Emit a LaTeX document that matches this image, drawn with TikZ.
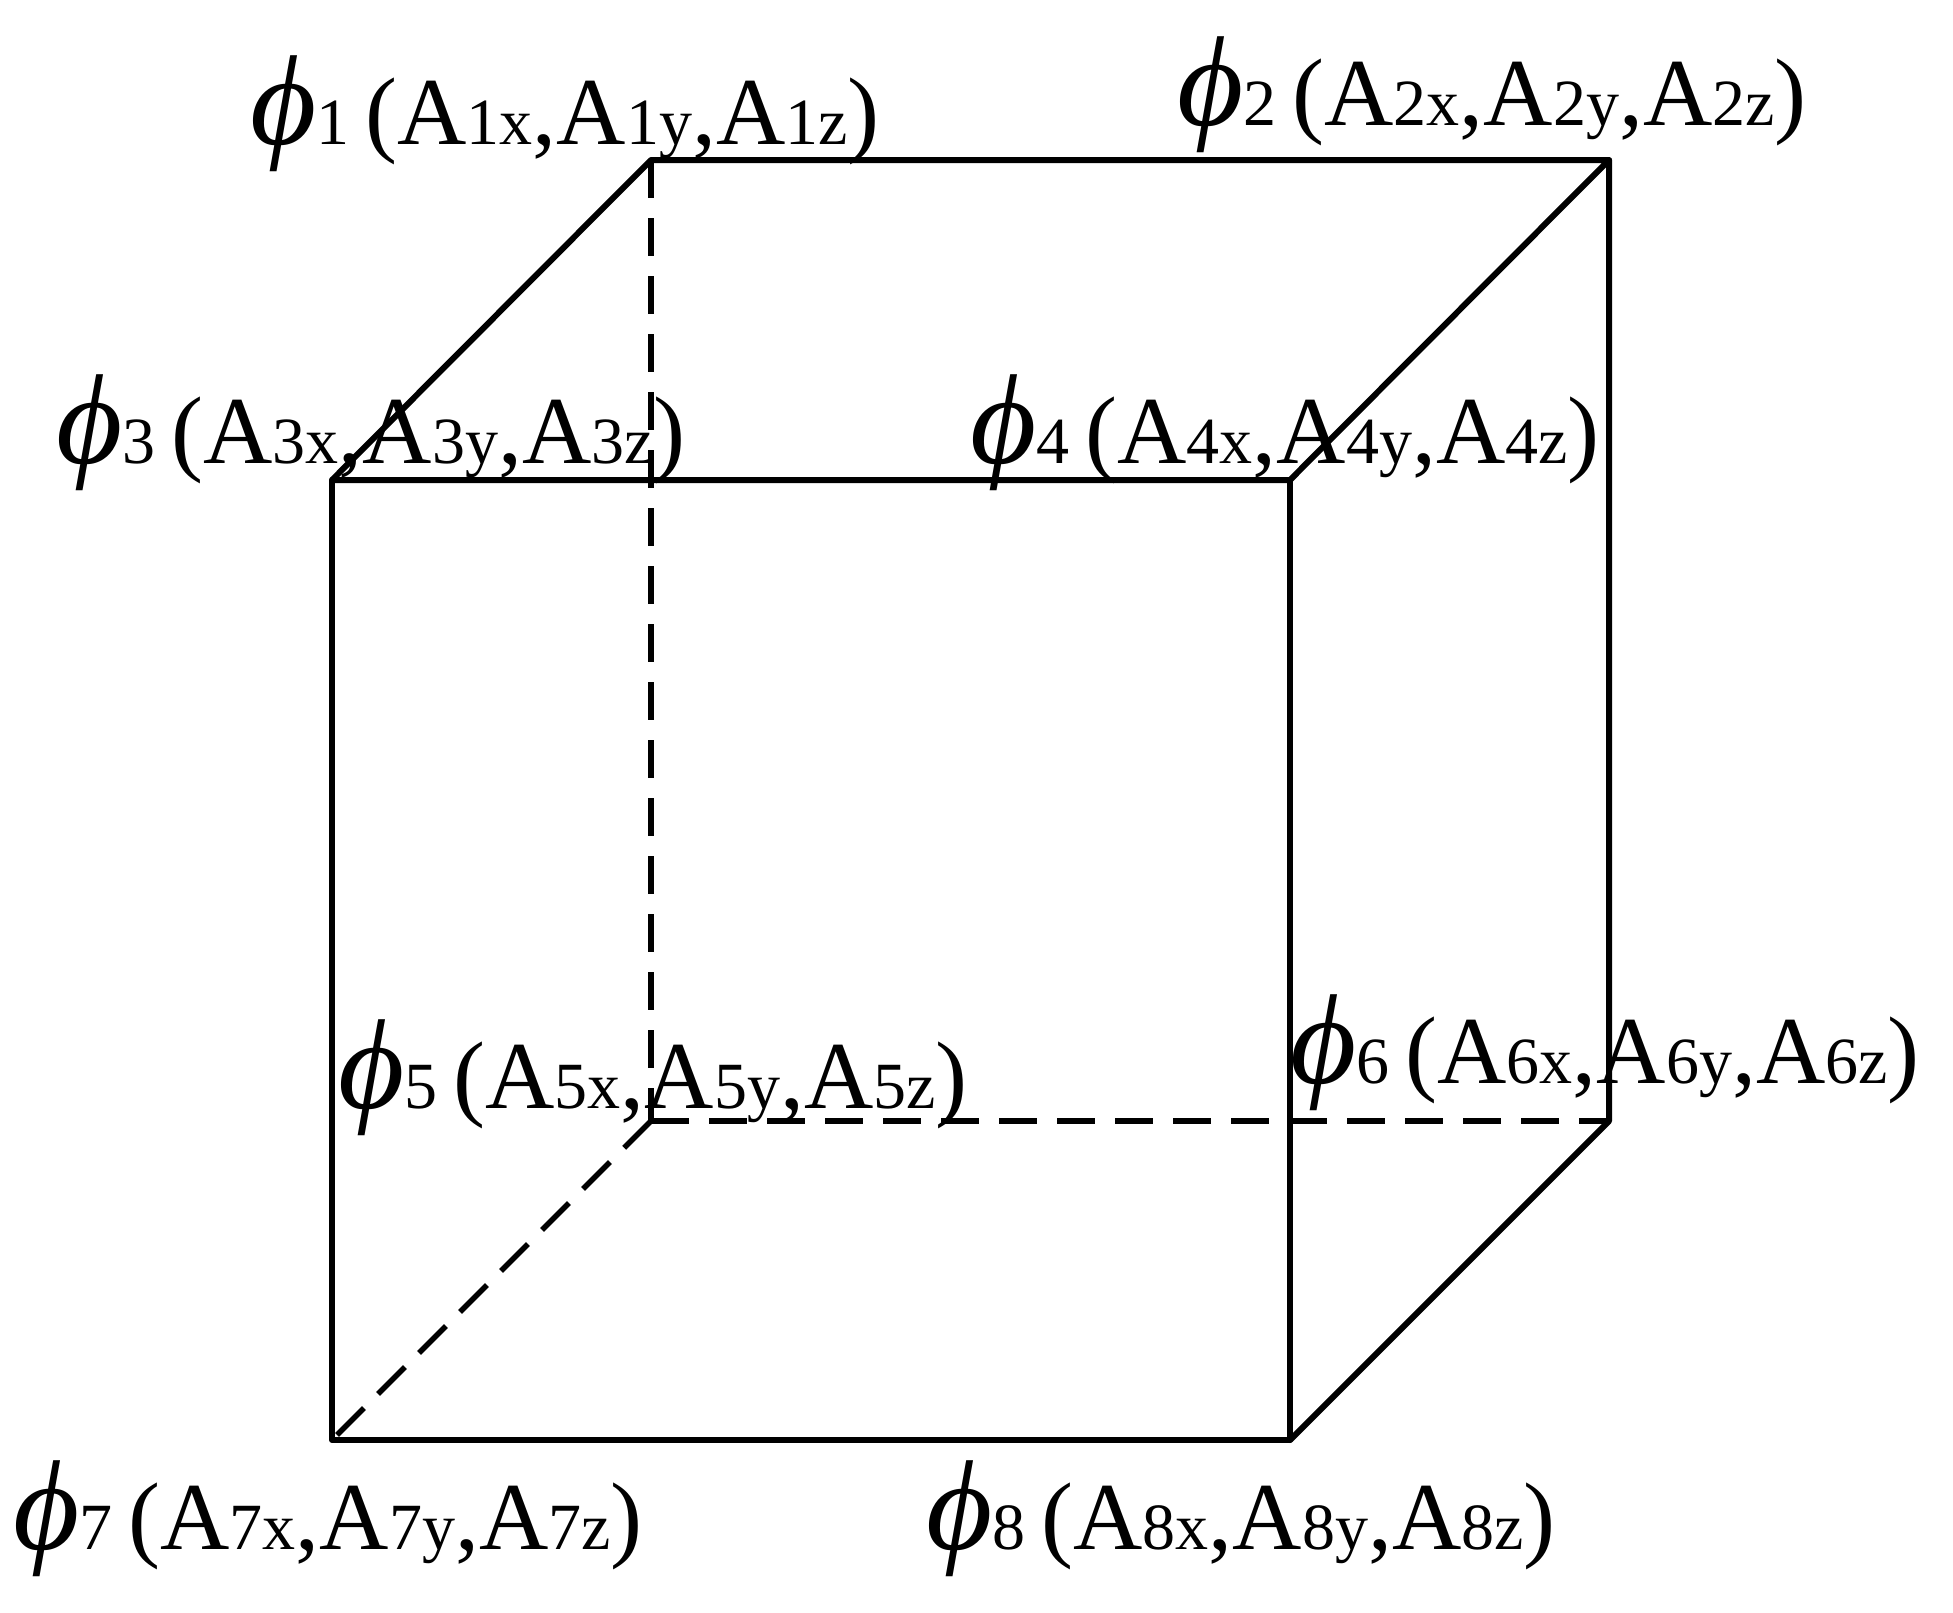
\documentclass[tikz,border=0pt]{standalone}
\usepackage{fontspec}
\setmainfont{Liberation Serif}
\newcommand{\cubelab}[1]{\fontsize{96}{96}\selectfont{\fontsize{128}{128}\selectfont\itshape ϕ}{\fontsize{66}{66}\selectfont #1}\,(A{\fontsize{66}{66}\selectfont #1x},A{\fontsize{66}{66}\selectfont #1y},A{\fontsize{66}{66}\selectfont #1z})}
\begin{document}
\begin{tikzpicture}[x=1pt,y=-1pt,edge/.style={line width=6pt,line cap=round,line join=round},hid/.style={line width=5.5pt,dash pattern=on 38pt off 20pt},lab/.style={anchor=base west,inner sep=0pt}]
\useasboundingbox (0,0) rectangle (1953,1612);
\coordinate (c1) at (651,160);
\coordinate (c2) at (1609,160);
\coordinate (c3) at (332,480);
\coordinate (c4) at (1290,480);
\coordinate (c5) at (651,1121);
\coordinate (c6) at (1609,1121);
\coordinate (c7) at (332,1440);
\coordinate (c8) at (1290,1440);
\draw[hid] (c1) -- (c5);
\draw[hid] (c5) -- (c6);
\draw[hid] (c5) -- (c7);
\draw[edge] (c3) -- (c1) -- (c2) -- (c4) -- cycle;
\draw[edge] (c3) -- (c7) -- (c8) -- (c4);
\draw[edge] (c2) -- (c6) -- (c8);
\node[lab] (l1) at (250,144) {\cubelab{1}};
\node[lab] (l2) at (1177,125) {\cubelab{2}};
\node[lab] (l3) at (56,463) {\cubelab{3}};
\node[lab] (l4) at (970,463) {\cubelab{4}};
\node[lab] (l5) at (338,1108) {\cubelab{5}};
\node[lab] (l6) at (1290,1083) {\cubelab{6}};
\node[lab] (l7) at (13,1549) {\cubelab{7}};
\node[lab] (l8) at (926,1549) {\cubelab{8}};
\end{tikzpicture}
\end{document}
